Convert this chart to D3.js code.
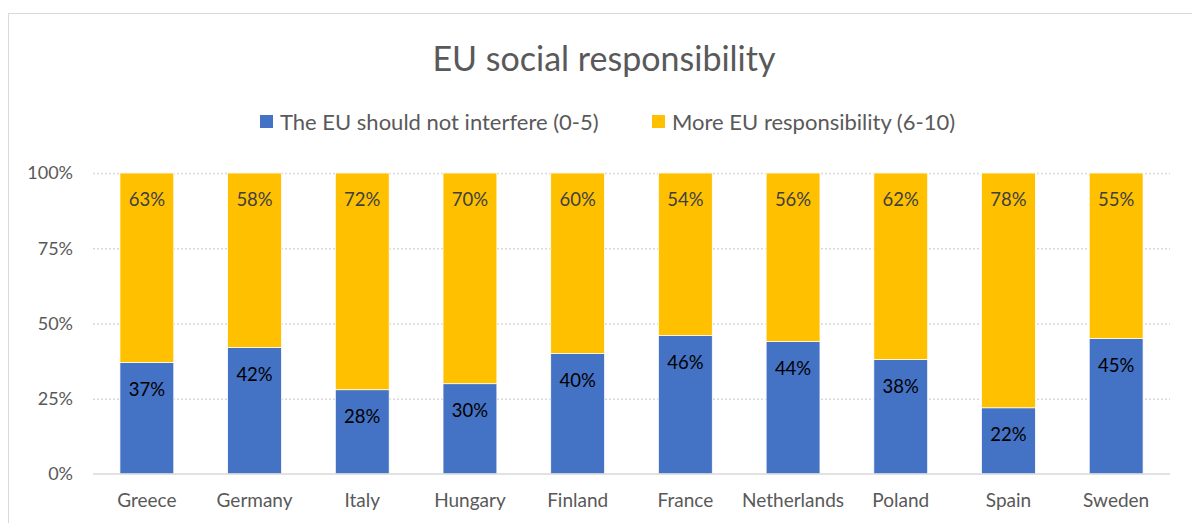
<!DOCTYPE html>
<html>
<head>
<meta charset="utf-8">
<script src="https://cdn.jsdelivr.net/npm/d3@7"></script>
<style>
  body { margin: 0; background: #fff; }
  text { font-family: Lato, "Open Sans", sans-serif; }
</style>
</head>
<body>
<div id="chart"></div>
<script>
// data
var countries = ["Greece", "Germany", "Italy", "Hungary", "Finland", "France", "Netherlands", "Poland", "Spain", "Sweden"];
var notInterfere = [37, 42, 28, 30, 40, 46, 44, 38, 22, 45];
var moreResp = [63, 58, 72, 70, 60, 54, 56, 62, 78, 55];
var seriesNames = ["The EU should not interfere (0-5)", "More EU responsibility (6-10)"];
var yTicks = [0, 25, 50, 75, 100];

var svgWidth = 1192, svgHeight = 523;
var margin = { top: 173, right: 22, bottom: 49, left: 93 };
var chartWidth = svgWidth - margin.left - margin.right;
var chartHeight = svgHeight - margin.top - margin.bottom;

var colors = ["#4472c4", "#ffc000"];

var svg = d3.select("#chart")
  .append("svg")
  .attr("width", svgWidth)
  .attr("height", svgHeight);

// chart border
svg.append("rect")
  .attr("x", 8.5).attr("y", 13.5)
  .attr("width", svgWidth + 20).attr("height", svgHeight + 20)
  .attr("fill", "none")
  .attr("stroke", "#d9d9d9");

// title
svg.append("text")
  .attr("x", 604).attr("y", 71)
  .attr("text-anchor", "middle")
  .attr("font-size", 34)
  .attr("fill", "#595959")
  .text("EU social responsibility");

// legend
var legend = svg.append("g").attr("transform", "translate(260,122)");
var legendX = [0, 392];
seriesNames.forEach(function(name, i) {
  var g = legend.append("g").attr("transform", `translate(${legendX[i]},0)`);
  g.append("rect").attr("x", 0).attr("y", -7).attr("width", 13).attr("height", 13).attr("fill", colors[i]);
  g.append("text").attr("x", 20).attr("y", 7.5).attr("font-size", 22).attr("fill", "#595959").text(name);
});

var chartGroup = svg.append("g")
  .attr("transform", `translate(${margin.left}, ${margin.top})`);

var xScale = d3.scaleBand()
  .domain(countries)
  .range([0, chartWidth])
  .paddingInner(0.5)
  .paddingOuter(0.25);

var yScale = d3.scaleLinear()
  .domain([0, 100])
  .range([chartHeight, 0]);

// gridlines
chartGroup.selectAll(".grid")
  .data(yTicks.filter(d => d > 0))
  .enter()
  .append("line")
  .attr("x1", 0).attr("x2", chartWidth)
  .attr("y1", d => yScale(d) + 0.5).attr("y2", d => yScale(d) + 0.5)
  .attr("stroke", "#d9d9d9")
  .attr("stroke-width", 1.5)
  .attr("stroke-dasharray", "2,2");

// y axis
var yAxis = d3.axisLeft(yScale).tickValues(yTicks).tickFormat(d => d + "%").tickSize(0).tickPadding(20);
var yG = chartGroup.append("g").call(yAxis);
yG.select(".domain").remove();
yG.selectAll("text").attr("font-size", 18).attr("fill", "#595959").style("font-family", "Lato, sans-serif");

// stacked data
var rows = countries.map(function(c, i) {
  return { country: c, a: notInterfere[i], b: moreResp[i] };
});
var stack = d3.stack().keys(["a", "b"]);
var layers = stack(rows);

layers.forEach(function(layer, li) {
  var g = chartGroup.append("g");
  g.selectAll("rect")
    .data(layer)
    .enter()
    .append("rect")
    .attr("x", d => xScale(d.data.country))
    .attr("width", xScale.bandwidth())
    .attr("y", d => yScale(d[1]))
    .attr("height", d => yScale(d[0]) - yScale(d[1]))
    .attr("fill", colors[li])
    .attr("stroke", "#fff")
    .attr("stroke-width", 0.75);

  g.selectAll("text")
    .data(layer)
    .enter()
    .append("text")
    .attr("x", d => xScale(d.data.country) + xScale.bandwidth() / 2)
    .attr("y", d => yScale(d[1]) + 33)
    .attr("text-anchor", "middle")
    .attr("font-size", 18.5)
    .attr("fill", li === 0 ? "#000" : "#404040")
    .text(d => (d[1] - d[0]) + "%");
});

// baseline
chartGroup.append("line")
  .attr("x1", 0).attr("x2", chartWidth)
  .attr("y1", chartHeight).attr("y2", chartHeight)
  .attr("stroke", "#d9d9d9")
  .attr("stroke-width", 1.5);

// x axis labels
var xAxis = d3.axisBottom(xScale).tickSize(0).tickPadding(20);
var xG = chartGroup.append("g").attr("transform", `translate(0, ${chartHeight})`).call(xAxis);
xG.select(".domain").remove();
xG.selectAll("text").attr("font-size", 19).attr("fill", "#595959").style("font-family", "Lato, sans-serif");
</script>
</body>
</html>
